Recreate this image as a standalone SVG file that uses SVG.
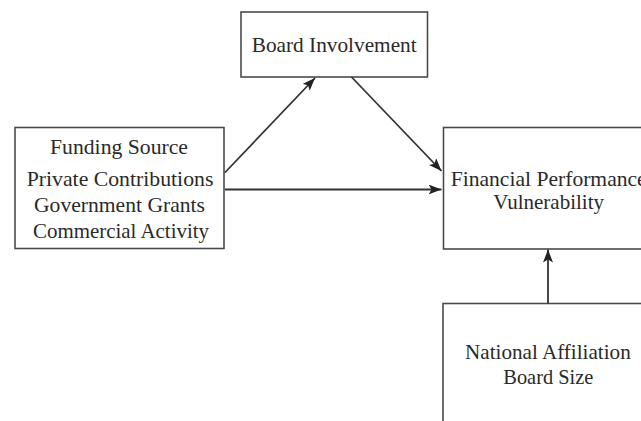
<svg xmlns="http://www.w3.org/2000/svg" width="641" height="421" viewBox="0 0 641 421">
<style>
.box{fill:#fff;stroke:#4a4a4a;stroke-width:1.6}
.lbl{font-family:"Liberation Serif","Times New Roman",serif;font-size:21px;fill:#2a2a2a}
.edge{stroke:#333;stroke-width:1.8;fill:none;marker-end:url(#ah)}
</style>
<defs>
<marker id="ah" markerUnits="userSpaceOnUse" markerWidth="14" markerHeight="10" refX="13" refY="5" orient="auto">
<path d="M0,0 L13,5 L0,10 L3,5 z" fill="#222"/>
</marker>
</defs>
<rect width="641" height="421" fill="#fff"/>
<g id="board">
<rect class="box" x="241" y="12" width="186.5" height="65"/>
<text class="lbl" x="251.7" y="52" textLength="165" lengthAdjust="spacingAndGlyphs">Board Involvement</text>
</g>
<g id="funding">
<rect class="box" x="15" y="127.5" width="209" height="121"/>
<text class="lbl" x="50" y="154" textLength="138" lengthAdjust="spacingAndGlyphs">Funding Source</text>
<text class="lbl" x="26.7" y="186" textLength="186.7" lengthAdjust="spacingAndGlyphs">Private Contributions</text>
<text class="lbl" x="34" y="212" textLength="171" lengthAdjust="spacingAndGlyphs">Government Grants</text>
<text class="lbl" x="33" y="238" textLength="176" lengthAdjust="spacingAndGlyphs">Commercial Activity</text>
</g>
<g id="financial">
<rect class="box" x="443.5" y="127.5" width="220" height="121.5"/>
<text class="lbl" x="450.7" y="185.5" textLength="196" lengthAdjust="spacingAndGlyphs">Financial Performance</text>
<text class="lbl" x="493.3" y="209" textLength="110.7" lengthAdjust="spacingAndGlyphs">Vulnerability</text>
</g>
<g id="national">
<rect class="box" x="443" y="303.5" width="220" height="150"/>
<text class="lbl" x="465" y="358.5" textLength="165.7" lengthAdjust="spacingAndGlyphs">National Affiliation</text>
<text class="lbl" x="503.3" y="383.5" textLength="90" lengthAdjust="spacingAndGlyphs">Board Size</text>
</g>
<g id="connectors">
<line class="edge" x1="225" y1="172.5" x2="315" y2="78"/>
<line class="edge" x1="351.5" y1="77" x2="441.5" y2="171"/>
<line class="edge" x1="225" y1="189.5" x2="441.5" y2="189.5"/>
<line class="edge" x1="548" y1="303.5" x2="548" y2="249.5"/>
</g>
</svg>
